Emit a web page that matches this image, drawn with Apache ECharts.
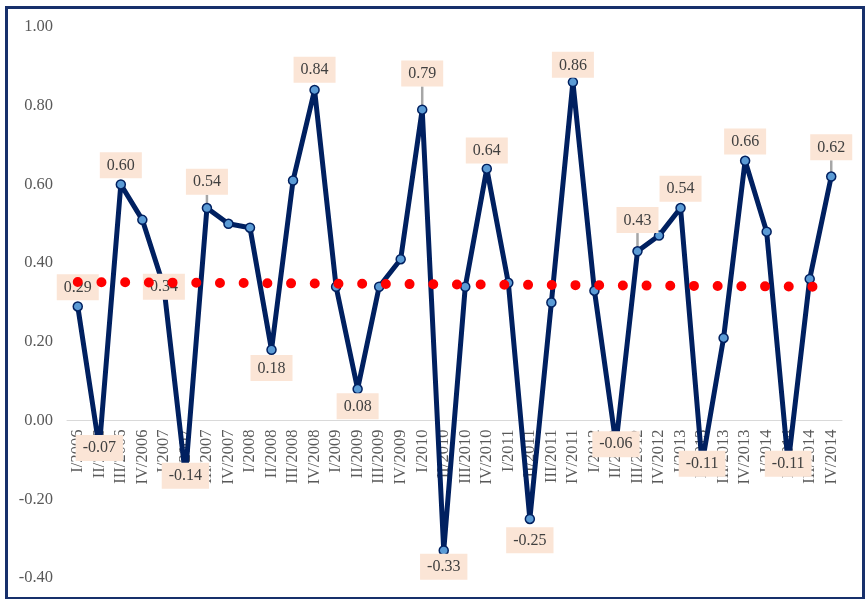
<!DOCTYPE html>
<html>
<head>
<meta charset="utf-8">
<script src="https://cdn.jsdelivr.net/npm/echarts@6/dist/echarts.min.js"></script>
<style>
html,body{margin:0;padding:0;background:#fff;}
#chart{width:865px;height:599px;}
</style>
</head>
<body>
<div id="chart"></div>
<script>
const categories = ['I/2006','II/2006','III/2006','IV/2006','I/2007','II/2007','III/2007','IV/2007',
  'I/2008','II/2008','III/2008','IV/2008','I/2009','II/2009','III/2009','IV/2009',
  'I/2010','II/2010','III/2010','IV/2010','I/2011','II/2011','III/2011','IV/2011',
  'I/2012','II/2012','III/2012','IV/2012','I/2013','II/2013','III/2013','IV/2013',
  'I/2014','II/2014','III/2014','IV/2014'];
const values = [0.29, -0.07, 0.60, 0.51, 0.34, -0.14, 0.54, 0.50, 0.49, 0.18, 0.61, 0.84,
  0.34, 0.08, 0.34, 0.41, 0.79, -0.33, 0.34, 0.64, 0.35, -0.25, 0.30, 0.86,
  0.33, -0.06, 0.43, 0.47, 0.54, -0.11, 0.21, 0.66, 0.48, -0.11, 0.36, 0.62];
// trend line: start and end values
const trendStart = 0.352;
const trendEnd = 0.340;
const yTicks = [-0.4, -0.2, 0, 0.2, 0.4, 0.6, 0.8, 1.0];

// which points carry a data label and where
const labelTop = [0, 2, 6, 11, 16, 19, 23, 26, 28, 31, 35];
const labelBottom = [9, 13, 17, 21];
const labelCenter = [1, 4, 5, 25, 29, 33];
const leaderIdx = [6, 16, 26, 35];
const labelShift = {0:1, 2:1, 6:-6, 11:0, 16:-16, 19:2, 23:3, 26:-11, 28:1, 31:1, 35:-9,
  9:-2, 13:-3, 17:-4, 21:1};

const trendData = categories.map((c, i) => i === 0 ? trendStart : (i === categories.length - 1 ? trendEnd : null));

const mainData = values.map((v, i) => {
  const item = { value: v };
  if (labelTop.includes(i) || labelBottom.includes(i)) {
    item.label = { show: true, position: labelTop.includes(i) ? 'top' : 'bottom' };
    if (leaderIdx.includes(i)) item.labelLine = { show: true };
  } else if (labelCenter.includes(i)) {
    item.label = { show: true, position: ['50%', '50%'], align: 'center', verticalAlign: 'middle', distance: 0 };
  } else {
    item.label = { show: false };
  }
  return item;
});

const chart = echarts.init(document.getElementById('chart'), null, {renderer: 'canvas'});
const serif = '"Liberation Serif", "Times New Roman", serif';
chart.setOption({
  animation: false,
  backgroundColor: '#ffffff',
  grid: { left: 67, right: 23, top: 27, bottom: 21, containLabel: false, outerBoundsMode: 'none' },
  xAxis: {
    type: 'category',
    data: categories,
    boundaryGap: true,
    axisLine: { onZero: false, lineStyle: { color: '#d9d9d9', width: 1 } },
    axisTick: { show: false },
    splitLine: { show: false },
    axisLabel: { rotate: 90, interval: 0, margin: 9, color: '#595959', fontFamily: serif, fontSize: 16.5 }
  },
  yAxis: {
    type: 'value',
    min: yTicks[0],
    max: yTicks[yTicks.length - 1],
    interval: 0.2,
    axisLine: { show: false },
    axisTick: { show: false },
    splitLine: { show: false },
    axisLabel: { color: '#595959', fontFamily: serif, fontSize: 16.5, margin: 14,
      formatter: v => v.toFixed(2) }
  },
  series: [
    {
      type: 'line',
      data: mainData,
      z: 2,
      symbol: 'circle',
      symbolSize: 9,
      lineStyle: { color: '#002060', width: 5 },
      itemStyle: { color: '#5b9bd5', borderColor: '#002060', borderWidth: 1.5 },
      label: {
        show: false,
        distance: 2,
        formatter: p => p.value.toFixed(2),
        color: '#404040',
        fontFamily: serif,
        fontSize: 16,
        lineHeight: 17,
        backgroundColor: '#fbe5d6',
        padding: [5, 7, 4, 7]
      },
      labelLine: { show: false, lineStyle: { color: '#a6a6a6', width: 2.5 } },
      labelLayout: function (p) {
        const dy = labelShift[p.dataIndex];
        return dy ? { dy: dy } : {};
      }
    },
    {
      type: 'line',
      data: trendData,
      connectNulls: true,
      z: 3,
      symbol: 'none',
      lineStyle: { color: '#ff0000', width: 10, type: [0, 23.7], cap: 'round' }
    }
  ],
  graphic: [{
    type: 'rect',
    left: 4, top: 5,
    shape: { width: 857, height: 591 },
    style: { fill: 'none', stroke: '#17306b', lineWidth: 3 },
    silent: true
  }]
});
// move the category axis (line + labels) up to the value 0 using the library's scale
const yZero = chart.convertToPixel({ yAxisIndex: 0 }, 0);
const yMin = chart.convertToPixel({ yAxisIndex: 0 }, yTicks[0]);
chart.setOption({ xAxis: { offset: -(yMin - yZero) } });
</script>
</body>
</html>
